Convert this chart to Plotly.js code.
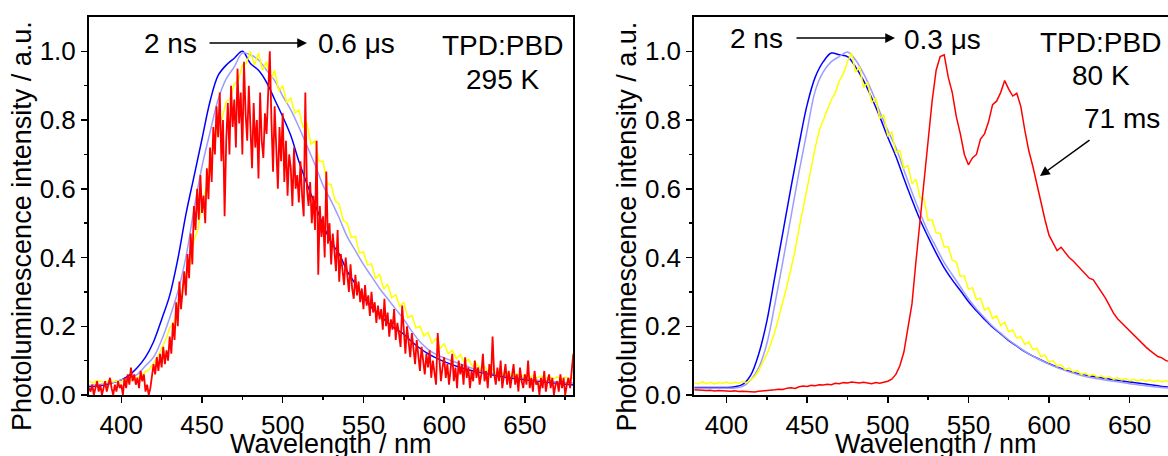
<!DOCTYPE html>
<html>
<head>
<meta charset="utf-8">
<script src="https://cdn.plot.ly/plotly-3.0.1.min.js"></script>
<style>
html,body{margin:0;padding:0;overflow:hidden;background:#fff;width:1168px;height:456px;}
#chart{width:1180px;height:456px;}
</style>
</head>
<body>
<div id="chart"></div>
<script>
// ---------- DATA ----------
// Left panel, 295 K
const wlL5 = [380,385,390,395,400,405,410,415,420,425,430,435,440,445,450,455,460,465,470,475,480,485,490,495,500,505,510,515,520,525,530,535,540,545,550,555,560,565,570,575,580,585,590,595,600,610,620,630,640,650,660,670,680];
const left2ns = [0.024,0.026,0.030,0.036,0.044,0.058,0.080,0.110,0.155,0.220,0.290,0.395,0.525,0.635,0.745,0.855,0.930,0.960,0.980,1.000,0.965,0.945,0.910,0.860,0.810,0.755,0.680,0.615,0.555,0.495,0.445,0.410,0.360,0.323,0.285,0.255,0.234,0.210,0.192,0.177,0.155,0.136,0.120,0.108,0.097,0.080,0.068,0.058,0.050,0.044,0.039,0.034,0.029];
const leftMid = [0.028,0.030,0.033,0.038,0.044,0.050,0.060,0.085,0.110,0.160,0.225,0.300,0.400,0.540,0.665,0.765,0.860,0.920,0.955,0.995,0.990,0.975,0.945,0.915,0.870,0.830,0.780,0.725,0.670,0.610,0.565,0.515,0.460,0.420,0.380,0.345,0.310,0.280,0.250,0.220,0.185,0.155,0.133,0.118,0.108,0.090,0.074,0.063,0.055,0.048,0.042,0.038,0.035];
const wlL25 = [380,382.5,385,387.5,390,392.5,395,397.5,400,402.5,405,407.5,410,412.5,415,417.5,420,422.5,425,427.5,430,432.5,435,437.5,440,442.5,445,447.5,450,452.5,455,457.5,460,462.5,465,467.5,470,472.5,475,477.5,480,482.5,485,487.5,490,492.5,495,497.5,500,502.5,505,507.5,510,512.5,515,517.5,520,522.5,525,527.5,530,532.5,535,537.5,540,542.5,545,547.5,550,552.5,555,557.5,560,562.5,565,567.5,570,572.5,575,577.5,580,582.5,585,587.5,590,592.5,595,597.5,600,602.5,605,607.5,610,612.5,615,617.5,620,622.5,625,627.5,630,632.5,635,637.5,640,642.5,645,647.5,650,652.5,655,657.5,660,662.5,665,667.5,670,672.5,675,677.5,680];
const left06us = [
0.040,0.035,0.042,0.038,0.036,0.043,0.038,0.041,0.037,0.042,0.040,0.046,0.050,0.055,0.068,0.075,0.092,0.110,0.135,0.160,
0.195,0.210,0.258,0.288,0.348,0.378,0.450,0.482,0.560,0.600,0.685,0.725,0.795,0.805,0.855,0.862,0.905,0.915,0.960,0.965,
1.000,0.960,0.995,0.945,0.970,0.915,0.945,0.885,0.900,0.850,0.865,0.820,0.830,0.780,0.790,0.730,0.740,0.680,0.680,0.615,
0.612,0.565,0.555,0.508,0.500,0.458,0.462,0.413,0.417,0.378,0.382,0.338,0.352,0.308,0.322,0.283,0.292,0.258,0.270,0.225,
0.232,0.195,0.200,0.172,0.182,0.150,0.165,0.135,0.150,0.120,0.130,0.105,0.118,0.094,0.104,0.083,0.092,0.075,0.083,0.068,
0.075,0.062,0.070,0.058,0.066,0.055,0.062,0.052,0.060,0.050,0.057,0.049,0.055,0.047,0.054,0.046,0.053,0.046,0.052,0.046,0.050];
const wlL1 = [380,381,382,383,384,385,386,387,388,389,390,391,392,393,394,395,396,397,398,399,400,401,402,403,404,405,406,407,408,409,410,411,412,413,414,415,416,417,418,419,420,421,422,423,424,425,426,427,428,429,430,431,432,433,434,435,436,437,438,439,440,441,442,443,444,445,446,447,448,449,450,451,452,453,454,455,456,457,458,459,460,461,462,463,464,465,466,467,468,469,470,471,472,473,474,475,476,477,478,479,480,481,482,483,484,485,486,487,488,489,490,491,492,493,494,495,496,497,498,499,500,501,502,503,504,505,506,507,508,509,510,511,512,513,514,515,516,517,518,519,520,521,522,523,524,525,526,527,528,529,530,531,532,533,534,535,536,537,538,539,540,541,542,543,544,545,546,547,548,549,550,551,552,553,554,555,556,557,558,559,560,561,562,563,564,565,566,567,568,569,570,571,572,573,574,575,576,577,578,579,580,581,582,583,584,585,586,587,588,589,590,591,592,593,594,595,596,597,598,599,600,601,602,603,604,605,606,607,608,609,610,611,612,613,614,615,616,617,618,619,620,621,622,623,624,625,626,627,628,629,630,631,632,633,634,635,636,637,638,639,640,641,642,643,644,645,646,647,648,649,650,651,652,653,654,655,656,657,658,659,660,661,662,663,664,665,666,667,668,669,670,671,672,673,674,675,676,677,678,679,680];
const leftLate = [
0.02,0.01,0.03,0.00,0.02,0.04,0.01,0.03,0.00,0.02,
0.04,0.01,0.03,0.05,0.02,0.00,0.03,0.01,0.04,0.02,
0.03,0.00,0.05,0.02,0.06,0.03,0.08,0.04,0.06,0.03,
0.05,0.02,0.07,0.04,0.06,0.01,0.03,0.00,0.02,0.05,
0.09,0.06,0.11,0.07,0.12,0.08,0.14,0.09,0.13,0.10,
0.17,0.12,0.21,0.16,0.27,0.20,0.33,0.25,0.30,0.36,
0.29,0.41,0.34,0.47,0.38,0.55,0.48,0.60,0.51,0.64,
0.53,0.58,0.50,0.66,0.57,0.72,0.62,0.78,0.70,0.84,
0.75,0.88,0.68,0.80,0.52,0.74,0.85,0.70,0.90,0.78,
0.86,0.72,0.95,0.79,0.88,0.70,0.97,0.82,0.74,0.90,
0.78,0.66,0.85,0.72,0.80,0.63,0.88,0.74,0.69,0.82,
0.76,0.88,1.00,0.80,0.65,0.84,0.72,0.60,0.78,0.68,
0.82,0.62,0.74,0.58,0.70,0.66,0.55,0.72,0.60,0.64,
0.56,0.68,0.58,0.52,0.88,0.60,0.55,0.62,0.50,0.58,
0.48,0.74,0.35,0.55,0.46,0.52,0.40,0.65,0.44,0.50,
0.38,0.47,0.42,0.36,0.48,0.33,0.41,0.37,0.32,0.40,
0.34,0.30,0.38,0.31,0.28,0.35,0.29,0.33,0.27,0.31,
0.25,0.32,0.26,0.29,0.23,0.30,0.24,0.27,0.21,0.26,
0.22,0.25,0.19,0.28,0.20,0.24,0.17,0.22,0.19,0.25,
0.16,0.21,0.18,0.14,0.26,0.17,0.12,0.20,0.15,0.11,
0.18,0.13,0.09,0.16,0.11,0.07,0.14,0.10,0.06,0.12,
0.08,0.13,0.05,0.10,0.07,0.03,0.18,0.09,0.04,0.08,
0.11,0.05,0.09,0.03,0.07,0.12,0.04,0.08,0.02,0.10,
0.06,0.09,0.03,0.11,0.05,0.08,0.02,0.07,0.04,0.10,
0.05,0.08,0.03,0.06,0.12,0.04,0.07,0.02,0.09,0.05,
0.17,0.06,0.03,0.08,0.04,0.10,0.02,0.06,0.09,0.03,
0.07,0.02,0.05,0.09,0.03,0.06,0.01,0.08,0.04,0.02,
0.06,0.03,0.10,0.02,0.05,0.01,0.07,0.03,0.04,0.00,
0.05,0.02,0.07,0.01,0.04,0.06,0.02,0.05,0.00,0.03,
0.04,0.01,0.06,0.02,0.05,0.00,0.03,0.05,0.02,0.08,
0.12];

// Right panel, 80 K
const wlR5 = wlL5;
const right2ns = [0.022,0.022,0.022,0.022,0.022,0.024,0.031,0.058,0.120,0.215,0.345,0.475,0.605,0.730,0.845,0.925,0.970,0.995,0.990,0.985,0.955,0.915,0.865,0.810,0.750,0.695,0.630,0.568,0.510,0.460,0.413,0.370,0.335,0.304,0.272,0.245,0.220,0.197,0.178,0.158,0.142,0.126,0.113,0.102,0.091,0.073,0.060,0.052,0.044,0.038,0.032,0.025,0.021];
const rightMid = [0.020,0.020,0.020,0.020,0.020,0.020,0.025,0.044,0.080,0.150,0.265,0.390,0.520,0.650,0.770,0.885,0.940,0.970,0.985,0.998,0.975,0.935,0.885,0.825,0.770,0.720,0.655,0.590,0.530,0.475,0.430,0.385,0.350,0.315,0.280,0.250,0.225,0.200,0.180,0.160,0.143,0.127,0.113,0.101,0.090,0.071,0.057,0.047,0.040,0.033,0.027,0.022,0.018];
const wlR25 = wlL25;
const right03us = [
0.036,0.032,0.038,0.033,0.037,0.032,0.036,0.034,0.038,0.033,0.037,0.034,0.039,0.036,0.044,0.054,0.072,0.095,0.118,0.150,
0.185,0.228,0.270,0.318,0.368,0.420,0.485,0.545,0.600,0.665,0.720,0.770,0.800,0.825,0.860,0.880,0.915,0.935,0.970,0.995,
0.940,0.955,0.895,0.910,0.850,0.865,0.805,0.815,0.755,0.765,0.705,0.712,0.660,0.668,0.615,0.628,0.575,0.570,0.508,0.510,
0.472,0.470,0.430,0.432,0.392,0.387,0.345,0.347,0.308,0.312,0.278,0.282,0.247,0.254,0.222,0.230,0.202,0.212,0.184,0.190,
0.166,0.170,0.148,0.154,0.132,0.136,0.112,0.116,0.095,0.100,0.084,0.088,0.074,0.079,0.067,0.071,0.060,0.064,0.056,0.060,
0.052,0.056,0.049,0.053,0.046,0.050,0.044,0.048,0.042,0.046,0.041,0.045,0.040,0.044,0.039,0.043,0.038,0.042,0.038,0.041,0.040];
const right71ms = [0.015,0.014,0.015,0.013,0.014,0.012,0.013,0.012,0.012,0.011,0.012,0.010,0.011,0.010,0.011,0.009,0.011,0.012,0.013,0.012,0.015,0.017,0.016,0.020,0.021,0.019,0.024,0.026,0.025,0.028,0.027,0.030,0.029,0.031,0.030,0.034,0.033,0.036,0.035,0.038,0.036,0.035,0.037,0.034,0.033,0.036,0.034,0.037,0.040,0.046,0.060,0.085,0.125,0.195,0.265,0.390,0.505,0.620,0.745,0.855,0.945,0.985,0.990,0.925,0.880,0.810,0.760,0.700,0.670,0.690,0.700,0.745,0.760,0.795,0.845,0.855,0.880,0.915,0.890,0.870,0.878,0.840,0.770,0.710,0.665,0.610,0.560,0.510,0.465,0.440,0.420,0.430,0.415,0.400,0.390,0.378,0.365,0.355,0.340,0.335,0.318,0.300,0.282,0.260,0.238,0.222,0.210,0.198,0.185,0.175,0.162,0.150,0.140,0.130,0.120,0.112,0.108,0.100,0.098,0.094,0.090];

const xTickVals = [400,450,500,550,600,650];
const xMinorVals = [425,475,525,575,625,675];
const yTickVals = [0.0,0.2,0.4,0.6,0.8,1.0];
const yTickText = ['0.0','0.2','0.4','0.6','0.8','1.0'];
const yMinorVals = [0.1,0.3,0.5,0.7,0.9];
const xTitle = 'Wavelength / nm';
const yTitle = 'Photoluminescence intensity / a.u.';

// ---------- LAYOUT ----------
const W = 1180, H = 456, L = 89, R = 2, T = 17, B = 61;
const pw = W - L - R, ph = H - T - B;
const PX = x => (x - L) / pw;
const PY = y => (H - B - y) / ph;
const FONT = 'Liberation Sans, Arial, sans-serif';

const cBlue = '#0000ff', cLight = '#9c9cff', cYellow = '#ffff00', cRed = '#ff0000';

function tr(x, y, color, width, xa, ya, spline) {
  return {x: x, y: y, type: 'scatter', mode: 'lines', xaxis: xa, yaxis: ya,
    line: {color: color, width: width, shape: spline ? 'spline' : 'linear'}, hoverinfo: 'skip', showlegend: false};
}

const data = [
  tr(wlL5, left2ns, cBlue, 1.5, 'x', 'y', true),
  tr(wlL5, leftMid, cLight, 1.5, 'x', 'y', true),
  tr(wlL25, left06us, cYellow, 1.5, 'x', 'y', false),
  tr(wlL1, leftLate, cRed, 1.8, 'x', 'y', false),
  tr(wlR5, right2ns, cBlue, 1.5, 'x2', 'y2', true),
  tr(wlR5, rightMid, cLight, 1.5, 'x2', 'y2', true),
  tr(wlR25, right03us, cYellow, 1.5, 'x2', 'y2', false),
  tr(wlR25, right71ms, cRed, 1.5, 'x2', 'y2', false)
];

function xax(domain, anchor) {
  return {domain: domain, anchor: anchor, range: [380, 680], tickvals: xTickVals,
    ticks: 'outside', ticklen: 6, tickwidth: 1.5, tickcolor: '#000',
    minor: {tickvals: xMinorVals, ticks: 'outside', ticklen: 3, tickwidth: 1.5, tickcolor: '#000', showgrid: false},
    showline: true, linewidth: 2, linecolor: '#000', mirror: true,
    showgrid: false, zeroline: false,
    tickfont: {family: FONT, size: 26, color: '#000'}};
}
function yax(anchor) {
  return {domain: [0, 1], anchor: anchor, range: [0, 1.1], tickvals: yTickVals, ticktext: yTickText,
    ticks: 'outside', ticklen: 6, tickwidth: 1.5, tickcolor: '#000',
    minor: {tickvals: yMinorVals, ticks: 'outside', ticklen: 3, tickwidth: 1.5, tickcolor: '#000', showgrid: false},
    showline: true, linewidth: 2, linecolor: '#000', mirror: true,
    showgrid: false, zeroline: false,
    tickfont: {family: FONT, size: 26, color: '#000'}};
}

function txt(text, x, y, xanchor, angle, yanchor, size) {
  return {text: text, xref: 'paper', yref: 'paper', x: PX(x), y: PY(y), xanchor: xanchor || 'center', yanchor: yanchor || 'middle',
    textangle: angle || 0, showarrow: false, font: {family: FONT, size: size || 28, color: '#000'}};
}
function arrow(x0, y0, x1, y1) {
  return {text: '', xref: 'paper', yref: 'paper', x: PX(x1), y: PY(y1), ax: x0 - x1, ay: y0 - y1,
    showarrow: true, arrowhead: 2, arrowsize: 1.3, arrowwidth: 1.5, arrowcolor: '#000', standoff: 0, startstandoff: 0};
}

const layout = {
  width: W, height: H,
  margin: {l: L, r: R, t: T, b: B},
  paper_bgcolor: '#fff', plot_bgcolor: '#fff',
  showlegend: false,
  xaxis: xax([0, (573.3 - L) / pw], 'y'),
  yaxis: yax('x'),
  xaxis2: xax([(694.3 - L) / pw, 1], 'y2'),
  yaxis2: yax('x2'),
  annotations: [
    // axis titles
    txt(yTitle, 22.5, 226.5, 'center', -90, 'middle', 27),
    txt(yTitle, 627, 226.5, 'center', -90, 'middle', 27),
    txt(xTitle, 331, 427, 'center', 0, 'top', 27),
    txt(xTitle, 936, 427, 'center', 0, 'top', 27),
    // left panel labels
    txt('2 ns', 170, 43),
    arrow(208, 43, 307, 43),
    txt('0.6 \u03bcs', 316, 43, 'left'),
    txt('TPD:PBD', 502, 45),
    txt('295 K', 502, 80),
    // right panel labels
    txt('2 ns', 756, 38),
    arrow(795, 38, 895, 38),
    txt('0.3 \u03bcs', 902, 40, 'left'),
    txt('TPD:PBD', 1100, 42),
    txt('80 K', 1101, 76),
    txt('71 ms', 1122, 118),
    arrow(1091, 139, 1040, 176)
  ]
};

Plotly.newPlot('chart', data, layout, {displayModeBar: false, staticPlot: true});
</script>
</body>
</html>
